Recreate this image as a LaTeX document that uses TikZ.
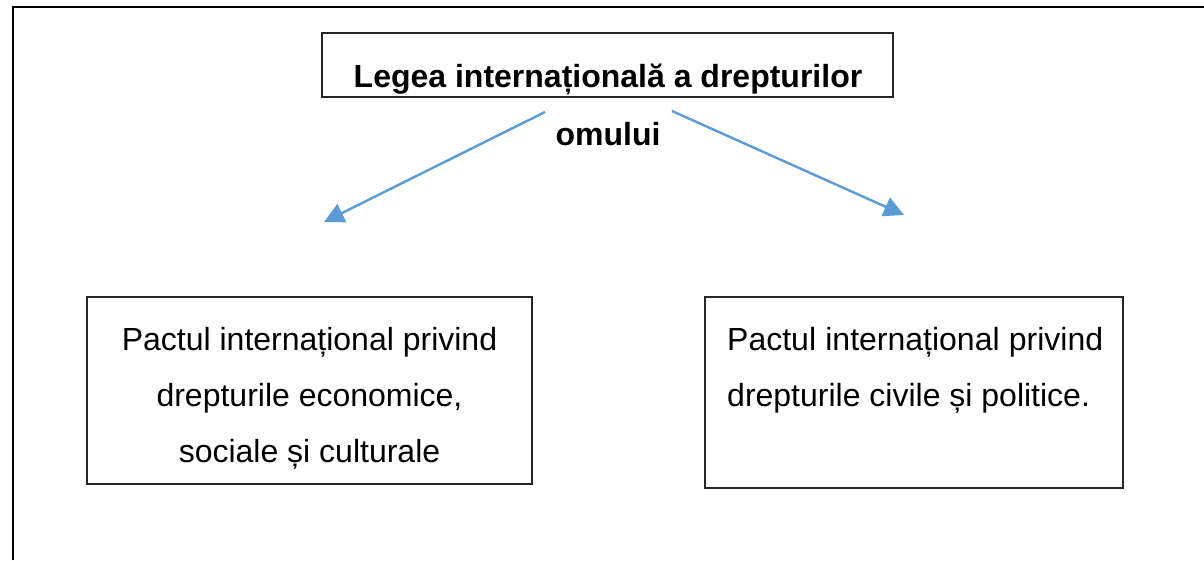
\documentclass[tikz,border=0pt]{standalone}
\usepackage{fontspec}
\setmainfont{Liberation Sans}
\usetikzlibrary{arrows.meta}
\definecolor{arrowblue}{HTML}{5B9BD5}
\definecolor{boxgray}{HTML}{262626}
\begin{document}
\begin{tikzpicture}[x=1pt,y=-1pt,
  framebox/.style={draw=boxgray, line width=1.2pt, inner sep=0pt},
  bodytext/.style={font=\fontsize{32}{56}\selectfont, inner sep=0pt},
  headtext/.style={font=\fontsize{32}{58}\selectfont\bfseries, inner sep=0pt},
  link/.style={draw=arrowblue, line width=2.4pt, -{Triangle[length=20pt,width=20pt]}}]
\useasboundingbox (0,0) rectangle (1204,560);
\draw[line width=2.6pt] (13,560) -- (13,7) -- (1204,7);
% boxes
\node[framebox, minimum width=571pt, minimum height=64pt] (topbox) at (607.5,65) {};
\node[framebox, minimum width=445pt, minimum height=187pt] (leftbox) at (309.5,390.5) {};
\node[framebox, minimum width=418pt, minimum height=191pt] (rightbox) at (914,392.5) {};
% texts
\node[headtext, align=center, anchor=base] (toptext) at (608,145) {Legea internațională a drepturilor\\omului};
\node[bodytext, align=center, anchor=base] (lefttext) at (309.5,462) {Pactul internațional privind\\drepturile economice,\\sociale și culturale};
\node[bodytext, text width=376pt, align=justify, anchor=base west] (righttext) at (727,350) {Pactul internațional privind drepturile civile și politice.};
% connectors
\coordinate (lstart) at (545,112);
\coordinate (lend) at (324,222);
\coordinate (rstart) at (672,111);
\coordinate (rend) at (904,215);
\draw[link] (lstart) -- (lend);
\draw[link] (rstart) -- (rend);
\end{tikzpicture}
\end{document}
